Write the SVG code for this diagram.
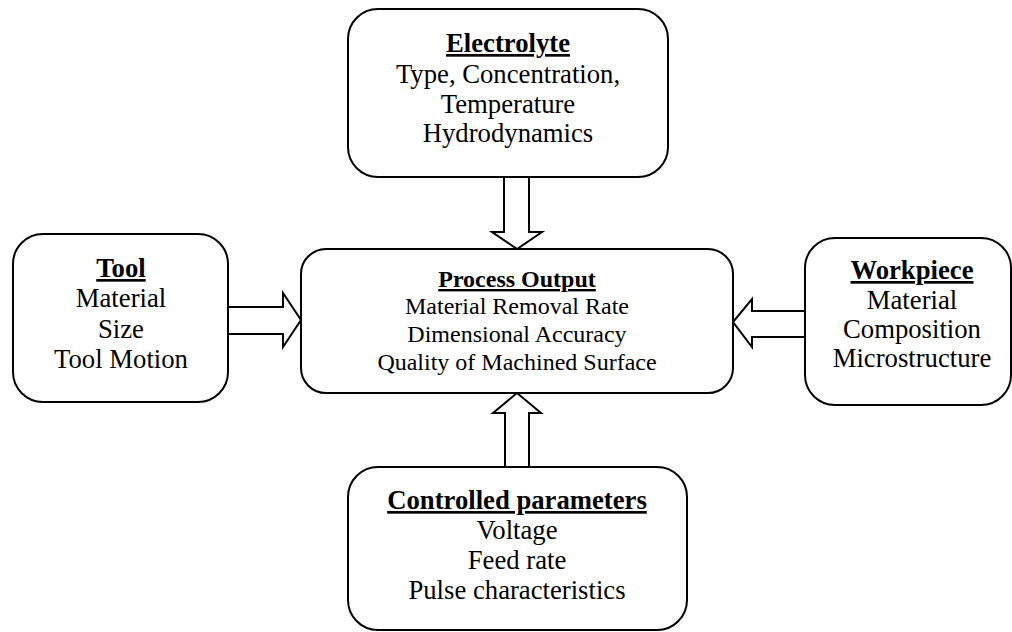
<svg xmlns="http://www.w3.org/2000/svg" width="1012" height="632" viewBox="0 0 1012 632">
<style>
.box{fill:#fff;stroke:#000;stroke-width:2}
.arr{fill:#fff;stroke:#000;stroke-width:2;stroke-linejoin:miter}
.t{font-size:26.7px}
.s{font-size:24px}
.h{font-weight:bold;text-decoration:underline}
</style>
<rect width="1012" height="632" fill="#fff"/>
<g id="connectors">
<polygon class="arr" points="504,177 529,177 529,232 542,232 517,249 492,232 504,232"/>
<polygon class="arr" points="505,467 529,467 529,413 541,413 517,393 493,413 505,413"/>
<polygon class="arr" points="228,307 283,307 283,293 301,320 283,347 283,334 228,334"/>
<polygon class="arr" points="805,311 752,311 752,299 733,322 752,347 752,337 805,337"/>
</g>
<g font-family="Liberation Serif, Tinos, Times New Roman, serif" text-anchor="middle" fill="#000">
<g id="electrolyte">
<rect class="box" x="348" y="9" width="320" height="168" rx="30"/>
<text class="t h" x="508" y="52">Electrolyte</text>
<text class="t" x="508" y="83">Type, Concentration,</text>
<text class="t" x="508" y="113">Temperature</text>
<text class="t" x="508" y="142">Hydrodynamics</text>
</g>
<g id="tool">
<rect class="box" x="13" y="234" width="215" height="168" rx="30"/>
<text class="t h" x="121" y="277">Tool</text>
<text class="t" x="121" y="307">Material</text>
<text class="t" x="121" y="338">Size</text>
<text class="t" x="121" y="368">Tool Motion</text>
</g>
<g id="process">
<rect class="box" x="301" y="249" width="432" height="144" rx="25"/>
<text class="s h" x="517" y="287">Process Output</text>
<text class="s" x="517" y="314">Material Removal Rate</text>
<text class="s" x="517" y="342">Dimensional Accuracy</text>
<text class="s" x="517" y="370">Quality of Machined Surface</text>
</g>
<g id="workpiece">
<rect class="box" x="805" y="238" width="206" height="167" rx="30"/>
<text class="t h" x="912" y="279">Workpiece</text>
<text class="t" x="912" y="309">Material</text>
<text class="t" x="912" y="338">Composition</text>
<text class="t" x="912" y="367">Microstructure</text>
</g>
<g id="controlled">
<rect class="box" x="348" y="467" width="339" height="163" rx="30"/>
<text class="t h" x="517" y="509">Controlled parameters</text>
<text class="t" x="517" y="539">Voltage</text>
<text class="t" x="517" y="569">Feed rate</text>
<text class="t" x="517" y="599">Pulse characteristics</text>
</g>
</g>
</svg>
